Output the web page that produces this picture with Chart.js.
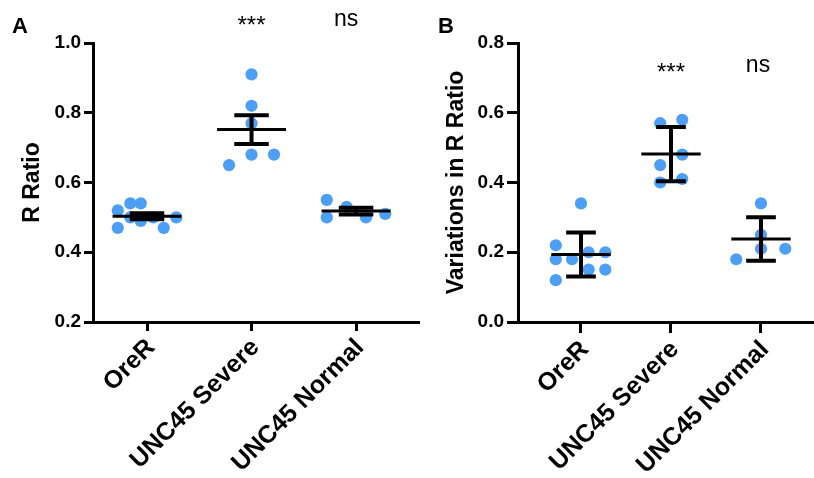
<!DOCTYPE html>
<html>
<head>
<meta charset="utf-8">
<script src="https://cdn.jsdelivr.net/npm/chart.js@4.4.1/dist/chart.umd.min.js"></script>
<style>
  html, body { margin: 0; padding: 0; background: #fff; }
  body { width: 814px; height: 478px; position: relative; overflow: hidden; }
  #wrapA { position: absolute; left: 0; top: 0; width: 420px; height: 478px; }
  #wrapB { position: absolute; left: 420px; top: 0; width: 394px; height: 478px; }
</style>
</head>
<body>
<div id="wrapA"><canvas id="chartA" width="420" height="478"></canvas></div>
<div id="wrapB"><canvas id="chartB" width="394" height="478"></canvas></div>
<script>
// ---------- data ----------
const categories = ["OreR", "UNC45 Severe", "UNC45 Normal"];

// Panel A: R Ratio (mean ± SEM)
const ratioOreR   = [0.52, 0.54, 0.54, 0.47, 0.50, 0.49, 0.50, 0.47, 0.50];
const ratioSevere = [0.91, 0.82, 0.77, 0.65, 0.68, 0.68];
const ratioNormal = [0.55, 0.50, 0.53, 0.50, 0.51];
// horizontal scatter offsets (category units)
const jitterRatioOreR   = [-0.28, -0.16, -0.06, -0.28, -0.16, -0.06, 0.06, 0.16, 0.28];
const jitterRatioSevere = [0, 0, 0, -0.215, 0, 0.215];
const jitterRatioNormal = [-0.28, -0.28, -0.09, 0.095, 0.28];

// Panel B: Variations in R Ratio (mean ± SD)
const varOreR   = [0.34, 0.22, 0.18, 0.18, 0.20, 0.20, 0.15, 0.15, 0.12];
const varSevere = [0.57, 0.58, 0.48, 0.45, 0.40, 0.41];
const varNormal = [0.34, 0.25, 0.21, 0.18, 0.21];
const jitterVarOreR   = [0, -0.28, -0.28, -0.1, 0.085, 0.27, 0.085, 0.27, -0.28];
const jitterVarSevere = [-0.12, 0.125, 0.125, -0.12, -0.12, 0.125];
const jitterVarNormal = [0, 0, 0, -0.275, 0.27];

const ticksA = [0.2, 0.4, 0.6, 0.8, 1.0];
const ticksB = [0.0, 0.2, 0.4, 0.6, 0.8];
const sigLabels = ["", "***", "ns"];

// ---------- helpers ----------
const FONT = "'Liberation Sans', Arial, Helvetica, sans-serif";
const DOT = "#4d9ef5";

function stats(arr) {
  const n = arr.length;
  const m = arr.reduce((a, b) => a + b, 0) / n;
  const v = arr.reduce((a, b) => a + (b - m) * (b - m), 0) / (n - 1);
  const sd = Math.sqrt(v);
  return { mean: m, sd: sd, sem: sd / Math.sqrt(n) };
}

function buildDatasets(groups, jitters, errKind) {
  const pts = [];
  groups.forEach((g, i) => g.forEach((v, k) => pts.push({ x: i + jitters[i][k], y: v })));
  const meanSeg = [], capSeg = [], vertSeg = [];
  groups.forEach((g, i) => {
    const s = stats(g);
    const e = errKind === "sem" ? s.sem : s.sd;
    meanSeg.push({ x: i - 0.33, y: s.mean }, { x: i + 0.33, y: s.mean }, { x: i + 0.4, y: null });
    capSeg.push({ x: i - 0.165, y: s.mean + e }, { x: i + 0.165, y: s.mean + e }, { x: i + 0.3, y: null });
    capSeg.push({ x: i - 0.165, y: s.mean - e }, { x: i + 0.165, y: s.mean - e }, { x: i + 0.3, y: null });
    vertSeg.push({ x: i, y: s.mean - e }, { x: i, y: s.mean + e }, { x: i + 0.3, y: null });
  });
  const lineDs = (data, w) => ({
    type: "scatter", data, showLine: true, spanGaps: false, pointRadius: 0,
    borderColor: "#000", borderWidth: w, borderCapStyle: "butt", order: 1, clip: false
  });
  return [
    lineDs(meanSeg, 3),
    lineDs(capSeg, 4),
    lineDs(vertSeg, 4),
    { type: "scatter", data: pts, pointRadius: 6.1, pointHoverRadius: 6.1,
      backgroundColor: DOT, borderWidth: 0, order: 2, clip: false }
  ];
}

const annotPlugin = {
  id: "annot",
  afterDraw(chart, args, opts) {
    const ctx = chart.ctx;
    const xs = chart.scales.x, ys = chart.scales.y;
    ctx.save();
    ctx.fillStyle = "#000";
    ctx.textAlign = "center";
    ctx.textBaseline = "middle";
    sigLabels.forEach((t, i) => {
      if (!t) return;
      const x = xs.getPixelForValue(i);
      const y = ys.getPixelForValue(opts.sigValue);
      if (t === "ns") {
        ctx.font = "23px " + FONT;
        ctx.fillText(t, x + opts.nsShift, y - 1);
      } else {
        ctx.font = "24px " + FONT;
        ctx.fillText(t, x, y + 6.5);
      }
    });
    ctx.font = "bold 22px " + FONT;
    ctx.textAlign = "left";
    ctx.textBaseline = "alphabetic";
    ctx.fillText(opts.letter, opts.letterX, 33);
    ctx.restore();
  }
};

function makeChart(id, groups, jitters, errKind, cfg) {
  return new Chart(document.getElementById(id), {
    type: "scatter",
    data: { datasets: buildDatasets(groups, jitters, errKind) },
    plugins: [annotPlugin],
    options: {
      responsive: false,
      animation: false,
      devicePixelRatio: 1,
      layout: { autoPadding: false, padding: { left: 0, top: 43, right: 0, bottom: 0 } },
      plugins: {
        legend: { display: false },
        tooltip: { enabled: false },
        annot: { sigValue: cfg.sigValue, letter: cfg.letter, letterX: cfg.letterX, nsShift: cfg.nsShift }
      },
      scales: {
        x: {
          type: "linear",
          min: cfg.xMin, max: cfg.xMax,
          afterBuildTicks(scale) { scale.ticks = categories.map((c, i) => ({ value: i })); },
          afterFit(scale) {
            scale.height = 478 - 322;
            scale.paddingLeft = 0;
            scale.paddingRight = 0;
          },
          ticks: {
            autoSkip: false, minRotation: 45, maxRotation: 45,
            color: "#000", padding: 2, labelOffset: 4,
            font: { family: FONT, size: 25, weight: "bold" },
            callback: (v) => categories[v]
          },
          grid: { drawOnChartArea: false, drawTicks: true, tickLength: cfg.tickLen, tickWidth: 3, color: "#000" },
          border: { display: true, color: "#000", width: 3 }
        },
        y: {
          type: "linear",
          min: cfg.yTicks[0], max: cfg.yTicks[cfg.yTicks.length - 1],
          afterBuildTicks(scale) { scale.ticks = cfg.yTicks.map(v => ({ value: v })); },
          afterFit(scale) { scale.width = cfg.yWidth; },
          ticks: {
            color: "#000", padding: 3,
            font: { family: FONT, size: 19, weight: "bold" },
            callback: (v) => Number(v).toFixed(1)
          },
          title: {
            display: true, text: cfg.yTitle, color: "#000",
            font: { family: FONT, size: 23, weight: "bold" },
            padding: { top: cfg.titlePad, bottom: 0 }
          },
          grid: { drawOnChartArea: false, drawTicks: true, tickLength: cfg.tickLen, tickWidth: 3, color: "#000" },
          border: { display: true, color: "#000", width: 3 }
        }
      }
    }
  });
}

makeChart("chartA", [ratioOreR, ratioSevere, ratioNormal],
  [jitterRatioOreR, jitterRatioSevere, jitterRatioNormal], "sem",
  { xMin: -0.517, xMax: 2.612, yTicks: ticksA, yWidth: 93, yTitle: "R Ratio",
    titlePad: 19, sigValue: 1.065, letter: "A", letterX: 12, tickLen: 9, nsShift: -10 });

makeChart("chartB", [varOreR, varSevere, varNormal],
  [jitterVarOreR, jitterVarSevere, jitterVarNormal], "sd",
  { xMin: -0.7, xMax: 2.589, yTicks: ticksB, yWidth: 98, yTitle: "Variations in R Ratio",
    titlePad: 23, sigValue: 0.7315, letter: "B", letterX: 18, tickLen: 11, nsShift: -3 });
</script>
</body>
</html>
